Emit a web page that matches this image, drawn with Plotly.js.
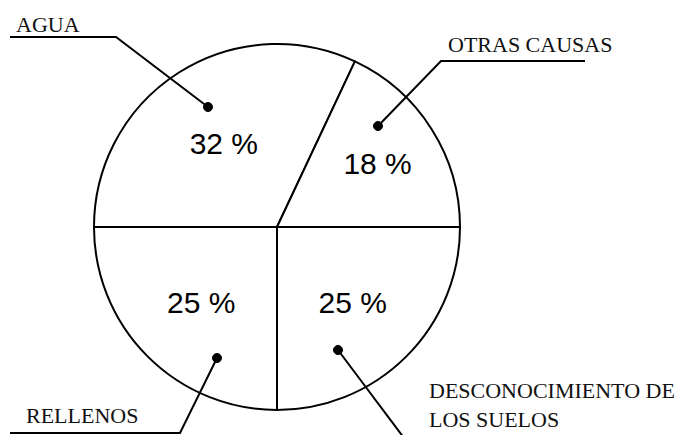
<!DOCTYPE html>
<html>
<head>
<meta charset="utf-8">
<script src="https://cdn.plot.ly/plotly-3.0.1.min.js"></script>
<style>
  html, body { margin: 0; padding: 0; background: #fff; }
  #pie-div { width: 686px; height: 435px; }
</style>
</head>
<body>
<div id="pie-div"></div>
<script>
// causes and their share (%)
const causes = ['AGUA', 'OTRAS CAUSAS', 'DESCONOCIMIENTO DE LOS SUELOS', 'RELLENOS'];
const percents = [32, 18, 25, 25];
const calloutTexts = ['AGUA', 'OTRAS CAUSAS', 'DESCONOCIMIENTO DE<br>LOS SUELOS', 'RELLENOS'];

const W = 686, H = 435;

// callout drawing in pixels: leader polyline (ends at the dot) and label spot
const callouts = [
    { path: [[10, 37], [116, 37], [208, 107]], label: [14, 24] },
    { path: [[585, 61], [441, 61], [378, 126]], label: [446, 45] },
    { path: [[404, 438], [338, 350]], label: [427, 405] },
    { path: [[10, 433], [180, 433], [217, 358]], label: [24, 415] }
];

// pixel -> paper
function px(x) { return x / W; }
function py(y) { return 1 - y / H; }

function buildShapes() {
    let shapes = [];
    for (let i = 0; i < callouts.length; i++) {
        let pts = callouts[i].path;
        let d = '';
        for (let j = 0; j < pts.length; j++) {
            d += (j === 0 ? 'M ' : ' L ') + px(pts[j][0]) + ',' + py(pts[j][1]);
        }
        shapes.push({
            type: 'path', xref: 'paper', yref: 'paper', path: d,
            line: { color: '#000', width: 2 }
        });
        let dot = pts[pts.length - 1];
        let r = 4.5;
        shapes.push({
            type: 'circle', xref: 'paper', yref: 'paper',
            x0: px(dot[0] - r), x1: px(dot[0] + r),
            y0: py(dot[1] + r), y1: py(dot[1] - r),
            fillcolor: '#000', line: { color: '#000', width: 1 }
        });
    }
    return shapes;
}

function buildAnnotations() {
    let ann = [];
    for (let i = 0; i < callouts.length; i++) {
        ann.push({
            xref: 'paper', yref: 'paper',
            x: px(callouts[i].label[0]), y: py(callouts[i].label[1]),
            xanchor: 'left', yanchor: 'middle', align: 'left',
            text: calloutTexts[i], showarrow: false,
            font: { family: 'Liberation Serif, serif', size: 22, color: '#111' }
        });
    }
    return ann;
}

function drawPie() {
    var trace = {
        type: 'pie',
        labels: causes,
        values: percents,
        sort: false,
        direction: 'clockwise',
        rotation: 270,
        marker: { colors: ['#fff', '#fff', '#fff', '#fff'], line: { color: '#000', width: 2 } },
        texttemplate: '%{value} %',
        textposition: 'inside',
        insidetextorientation: 'horizontal',
        textfont: { family: 'Liberation Sans, sans-serif', size: 30, color: '#000' },
        hoverinfo: 'label+percent',
        domain: { x: [px(94), px(460)], y: [py(410), py(44)] },
        showlegend: false
    };
    var layout = {
        width: W,
        height: H,
        margin: { l: 0, r: 0, t: 0, b: 0 },
        paper_bgcolor: '#fff',
        showlegend: false,
        shapes: buildShapes(),
        annotations: buildAnnotations()
    };
    Plotly.newPlot('pie-div', [trace], layout, { displayModeBar: false, staticPlot: true });
}

drawPie();
</script>
</body>
</html>
